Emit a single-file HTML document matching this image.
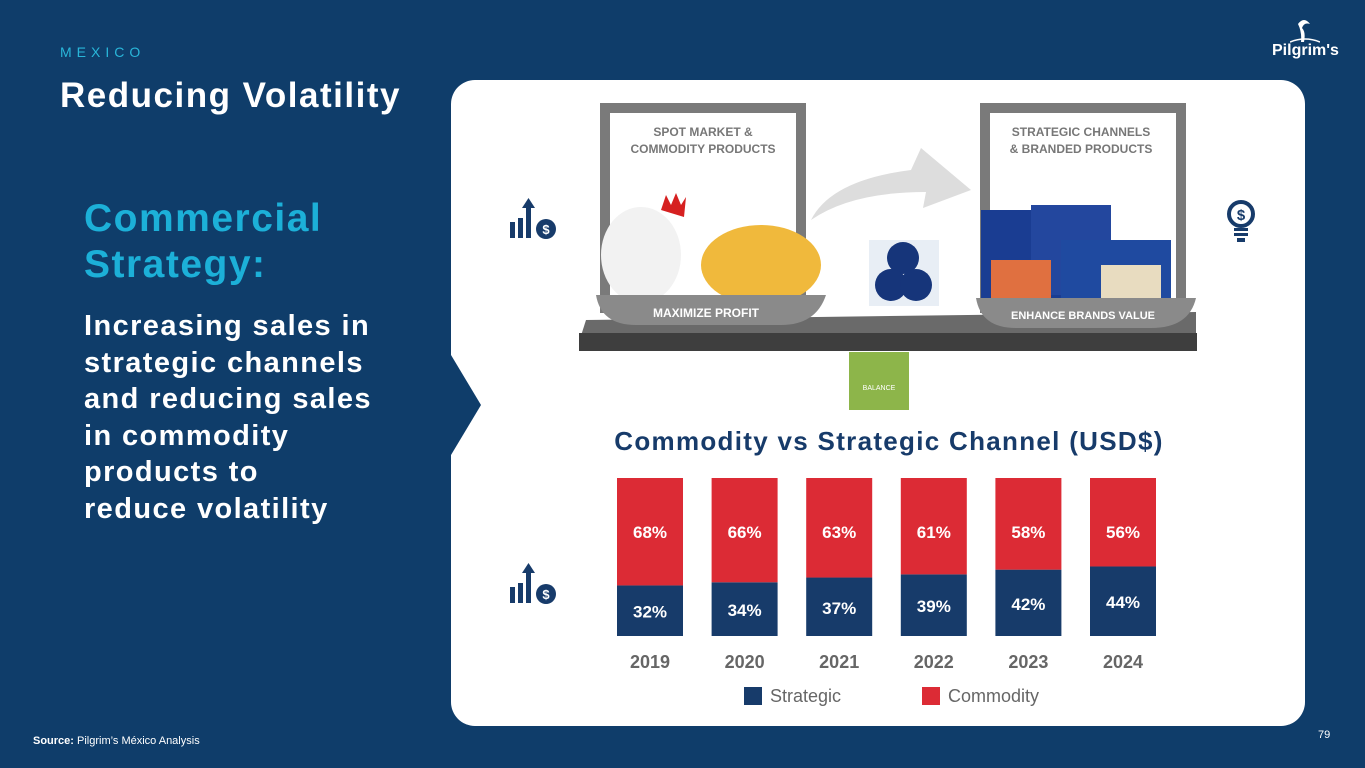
<!DOCTYPE html>
<html><head><meta charset="utf-8">
<style>
body{margin:0;width:1365px;height:768px;background:#0f3d6a;position:relative;overflow:hidden;font-family:"Liberation Sans",sans-serif;}
.abs{position:absolute;}
</style></head>
<body>
<div class="abs" style="left:60px;top:44px;color:#29b6d9;font-size:14px;letter-spacing:5px;">MEXICO</div>
<div class="abs" style="left:60px;top:76px;color:#fff;font-size:35px;font-weight:bold;letter-spacing:1.5px;">Reducing Volatility</div>
<div class="abs" style="left:84px;top:196px;color:#1cb0d8;font-size:39px;font-weight:bold;line-height:46px;letter-spacing:1.5px;">Commercial<br>Strategy:</div>
<div class="abs" style="left:84px;top:308px;color:#fff;font-size:29px;font-weight:bold;line-height:36.5px;letter-spacing:1.4px;">Increasing sales in<br>strategic channels<br>and reducing sales<br>in commodity<br>products to<br>reduce volatility</div>
<div class="abs" style="left:33px;top:735px;color:#fff;font-size:11px;"><b>Source:</b> Pilgrim’s México Analysis</div>
<div class="abs" style="left:1318px;top:729px;color:#fff;font-size:11px;">79</div>
<div class="abs" style="left:1272px;top:42px;color:#fff;font-size:16px;font-weight:bold;">Pilgrim's</div>
<svg class="abs" style="left:1290px;top:18px" width="30" height="26"><path d="M8 6 Q14 -2 20 6 Q14 4 12 10 Q16 14 14 24 L11 24 Q12 14 8 6Z" fill="#fff"/><path d="M0 24 Q15 18 30 24" stroke="#fff" fill="none" stroke-width="1.5"/></svg>

<div class="abs" style="left:451px;top:80px;width:854px;height:646px;background:#fff;border-radius:24px;"></div>
<svg class="abs" style="left:451px;top:355px" width="32" height="100"><path d="M0 0 L30 50 L0 100Z" fill="#0f3d6a"/></svg>

<svg class="abs" style="left:451px;top:80px" width="854" height="340">
<rect x="154" y="28" width="196" height="200" fill="none" stroke="#7a7a7a" stroke-width="10"/>
<rect x="534" y="28" width="196" height="200" fill="none" stroke="#7a7a7a" stroke-width="10"/>
<text x="252" y="56" font-size="12" fill="#777" text-anchor="middle" font-weight="bold">SPOT MARKET &amp;</text>
<text x="252" y="73" font-size="12" fill="#777" text-anchor="middle" font-weight="bold">COMMODITY PRODUCTS</text>
<text x="630" y="56" font-size="12" fill="#777" text-anchor="middle" font-weight="bold">STRATEGIC CHANNELS</text>
<text x="630" y="73" font-size="12" fill="#777" text-anchor="middle" font-weight="bold">&amp; BRANDED PRODUCTS</text>
<path d="M360 140 Q380 100 460 90 L470 68 L520 110 L472 128 L475 112 Q400 112 360 140Z" fill="#ddd"/>
<path d="M135 240 L745 232 L745 260 L128 262Z" fill="#6a6a6a"/>
<rect x="128" y="253" width="618" height="18" fill="#3e3e3e"/>
<ellipse cx="190" cy="175" rx="40" ry="48" fill="#f2f2f2"/><path d="M210 130 l5-15 5 10 5-12 5 12 5-8 -2 20Z" fill="#d62020"/>
<ellipse cx="310" cy="185" rx="60" ry="40" fill="#f0b93c"/>
<rect x="418" y="160" width="70" height="66" fill="#e8eef5"/>
<circle cx="452" cy="178" r="16" fill="#16357a"/><circle cx="440" cy="205" r="16" fill="#16357a"/><circle cx="465" cy="205" r="16" fill="#16357a"/>
<rect x="530" y="130" width="90" height="90" fill="#1a3d92"/><rect x="580" y="125" width="80" height="90" fill="#23479e"/><rect x="610" y="160" width="110" height="60" fill="#1f4aa0"/><rect x="540" y="180" width="60" height="40" fill="#e07040"/><rect x="650" y="185" width="60" height="35" fill="#e8dcc0"/>
<path d="M145 215 L375 215 Q365 245 330 245 L185 245 Q150 245 145 215Z" fill="#8a8a8a"/>
<text x="255" y="237" font-size="12" fill="#fff" text-anchor="middle" font-weight="bold">MAXIMIZE PROFIT</text>
<path d="M525 218 L745 218 Q738 248 700 248 L565 248 Q530 248 525 218Z" fill="#8a8a8a"/>
<text x="632" y="239" font-size="11" fill="#fff" text-anchor="middle" font-weight="bold">ENHANCE BRANDS VALUE</text>
<path d="M398 272 L458 272 L458 330 L398 330 Z" fill="#8db54a"/>
<text x="428" y="310" font-size="7" fill="#fff" text-anchor="middle">BALANCE</text>
</svg>
<svg class="abs" style="left:508px;top:198px" width="50" height="44"><rect x="2" y="24" width="5" height="16" fill="#173b6a"/><rect x="10" y="20" width="5" height="20" fill="#173b6a"/><rect x="18" y="10" width="5" height="30" fill="#173b6a"/><path d="M14 10 L20.5 0 L27 10Z" fill="#173b6a"/><circle cx="38" cy="31" r="10" fill="#173b6a"/><text x="38" y="36" font-size="13" fill="#fff" text-anchor="middle" font-weight="bold">$</text></svg>
<svg class="abs" style="left:508px;top:563px" width="50" height="44"><rect x="2" y="24" width="5" height="16" fill="#173b6a"/><rect x="10" y="20" width="5" height="20" fill="#173b6a"/><rect x="18" y="10" width="5" height="30" fill="#173b6a"/><path d="M14 10 L20.5 0 L27 10Z" fill="#173b6a"/><circle cx="38" cy="31" r="10" fill="#173b6a"/><text x="38" y="36" font-size="13" fill="#fff" text-anchor="middle" font-weight="bold">$</text></svg>
<svg class="abs" style="left:1225px;top:198px" width="32" height="48"><circle cx="16" cy="16" r="12" fill="none" stroke="#173b6a" stroke-width="4"/><text x="16" y="22" font-size="15" fill="#173b6a" text-anchor="middle" font-weight="bold">$</text><rect x="9" y="30" width="14" height="3" fill="#173b6a"/><rect x="9" y="35" width="14" height="3" fill="#173b6a"/><rect x="12" y="40" width="8" height="4" fill="#173b6a"/></svg>

<div class="abs" style="left:451px;top:426px;width:876px;text-align:center;color:#173b6a;font-size:26px;font-weight:bold;letter-spacing:1.3px;">Commodity vs Strategic Channel (USD$)</div>
<svg id="chart" class="abs" style="left:0;top:0" width="1365" height="768"></svg>
<div class="abs" style="left:744px;top:686px;font-size:18px;color:#666;"><span style="display:inline-block;width:18px;height:18px;background:#173b6a;vertical-align:-3px;margin-right:8px;"></span>Strategic</div>
<div class="abs" style="left:922px;top:686px;font-size:18px;color:#666;"><span style="display:inline-block;width:18px;height:18px;background:#dc2b35;vertical-align:-3px;margin-right:8px;"></span>Commodity</div>
<script>
const years=["2019","2020","2021","2022","2023","2024"];
const strategic=[32,34,37,39,42,44];
const commodity=[68,66,63,61,58,56];
const svg=document.getElementById('chart');
const NS='http://www.w3.org/2000/svg';
const x0=650,step=94.6,bw=66,yBot=636,H=158;
const xs=i=>x0+i*step;
const ys=v=>v/100*H;
function mk(t,a){const e=document.createElementNS(NS,t);for(const k in a)e.setAttribute(k,a[k]);svg.appendChild(e);return e;}
years.forEach((yr,i)=>{
 const cx=xs(i),hs=ys(strategic[i]),hc=ys(commodity[i]);
 const r1=mk('rect',{x:cx-bw/2,y:yBot-hs,width:bw,height:hs,fill:'#173b6a'});
 
 
 const r2=mk('rect',{x:cx-bw/2,y:yBot-hs-hc,width:bw,height:hc,fill:'#dc2b35'});
 
 
 const t1=mk('text',{x:cx,y:yBot-hs/2+7,'text-anchor':'middle','font-size':17,'font-weight':'bold',fill:'#fff','font-family':'Liberation Sans'});
 t1.textContent=strategic[i]+'%';
 
 
 const t2=mk('text',{x:cx,y:yBot-hs-hc+60,'text-anchor':'middle','font-size':17,'font-weight':'bold',fill:'#fff','font-family':'Liberation Sans'});
 t2.textContent=commodity[i]+'%';
 
 
 const t3=mk('text',{x:cx,y:668,'text-anchor':'middle','font-size':18,'font-weight':'bold',fill:'#666','font-family':'Liberation Sans'});
 t3.textContent=yr;
 
 
});
</script>
</body></html>
